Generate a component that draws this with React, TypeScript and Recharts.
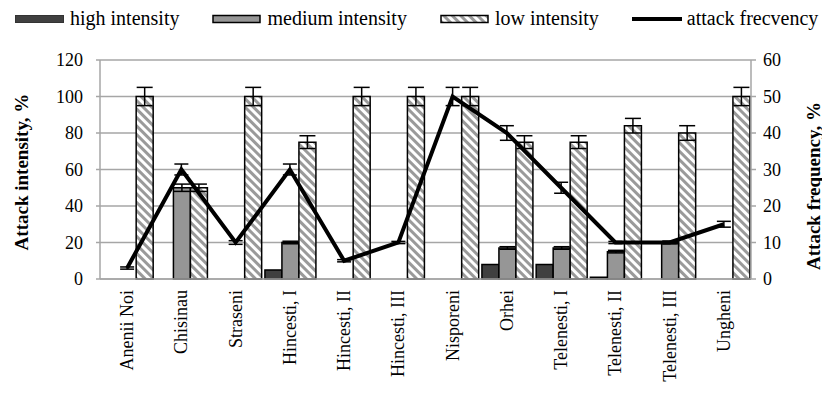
import React from 'react';
import {
  ComposedChart,
  Bar,
  Line,
  XAxis,
  YAxis,
  CartesianGrid,
  ErrorBar,
} from 'recharts';

const categories = [
  'Anenii Noi',
  'Chisinau',
  'Straseni',
  'Hincesti, I',
  'Hincesti, II',
  'Hincesti, III',
  'Nisporeni',
  'Orhei',
  'Telenesti, I',
  'Telenesti, II',
  'Telenesti, III',
  'Ungheni',
];
const highIntensity = [0, 0, 0, 5, 0, 0, 0, 8, 8, 1, 0, 0];
const mediumIntensity = [0, 50, 0, 20, 0, 0, 0, 17, 17, 15, 20, 0];
const mediumError = [0, 2, 0, 0.7, 0, 0, 0, 0.7, 0.7, 0.7, 0.7, 0];
const lowIntensity = [100, 50, 100, 75, 100, 100, 100, 75, 75, 84, 80, 100];
const lowError = [5, 2, 5, 3.5, 5, 5, 5, 3.5, 3.5, 4, 4, 5];
const attackFrequency = [3, 30, 10, 30, 5, 10, 50, 40, 25, 10, 10, 15];
const frequencyError = [0.3, 1.5, 0.5, 1.5, 0.3, 0.3, 2.5, 2, 1.5, 0.3, 0.3, 0.8];
const leftTicks = [0, 20, 40, 60, 80, 100, 120];
const rightTicks = [0, 10, 20, 30, 40, 50, 60];

const seriesNames = {
  high: 'high intensity',
  medium: 'medium intensity',
  low: 'low intensity',
  freq: 'attack frecvency',
};

const FONT = '"Liberation Serif", "Times New Roman", serif';
const GRID = '#a6a6a6';

const data = categories.map((c, i) => ({
  category: c,
  high: highIntensity[i],
  medium: mediumIntensity[i],
  mediumErr: mediumError[i],
  low: lowIntensity[i],
  lowErr: lowError[i],
  freq: attackFrequency[i],
  freqErr: frequencyError[i],
}));

const XTick = (props: any) => {
  const { x, y, payload } = props;
  return (
    <text
      x={x}
      y={y}
      transform={`rotate(-90 ${x} ${y})`}
      textAnchor="end"
      dominantBaseline="central"
      fontFamily={FONT}
      fontSize={18}
      fill="#000"
    >
      {payload.value}
    </text>
  );
};

const axisTitle = (text: string, side: 'left' | 'right') => (props: any) => {
  const vb = props.viewBox || {};
  const x = side === 'left' ? vb.x + 21 : vb.x + vb.width - 9;
  const y = side === 'left' ? 172 : 186;
  return (
    <text
      x={x}
      y={y}
      transform={`rotate(-90 ${x} ${y})`}
      textAnchor="middle"
      dominantBaseline="central"
      fontFamily={FONT}
      fontSize={19}
      fontWeight="bold"
      fill="#000"
    >
      {text}
    </text>
  );
};

const legendItems = [
  { key: 'high', label: seriesNames.high, kind: 'high' },
  { key: 'medium', label: seriesNames.medium, kind: 'medium' },
  { key: 'low', label: seriesNames.low, kind: 'low' },
  { key: 'freq', label: seriesNames.freq, kind: 'line' },
];

const LegendIcon = ({ kind }: { kind: string }) => (
  <svg width={50} height={10} style={{ display: 'block', marginTop: 10 }}>
    <defs>
      <pattern
        id="legStripes"
        patternUnits="userSpaceOnUse"
        width="6"
        height="6"
        patternTransform="rotate(-45)"
      >
        <rect width="6" height="6" fill="#fff" />
        <rect width="3" height="6" fill="#9a9a9a" />
      </pattern>
    </defs>
    {kind === 'high' && <rect x={0.5} y={1.5} width={48} height={7} fill="#404040" stroke="#333" strokeWidth={1} />}
    {kind === 'medium' && <rect x={1} y={1.5} width={47} height={7} fill="#969696" stroke="#000" strokeWidth={1.5} />}
    {kind === 'low' && <rect x={1} y={1.5} width={47} height={7} fill="url(#legStripes)" stroke="#000" strokeWidth={1.5} />}
    {kind === 'line' && <line x1={0} y1={5} x2={50} y2={5} stroke="#000" strokeWidth={4} />}
  </svg>
);

export default function App() {
  return (
    <div
      style={{
        position: 'absolute',
        left: 0,
        top: 0,
        width: 822,
        height: 394,
        background: '#fff',
        overflow: 'hidden',
      }}
    >
      <div
        style={{
          position: 'absolute',
          left: 15,
          top: 4,
          display: 'flex',
          alignItems: 'flex-start',
          gap: 33,
          fontFamily: FONT,
          fontSize: 20,
          lineHeight: '28px',
          color: '#000',
          whiteSpace: 'nowrap',
        }}
      >
        {legendItems.map((it) => (
          <div key={it.key} style={{ display: 'flex', alignItems: 'flex-start', gap: 5 }}>
            <LegendIcon kind={it.kind} />
            <span>{it.label}</span>
          </div>
        ))}
      </div>
      <ComposedChart
        width={822}
        height={394}
        data={data}
        margin={{ top: 60, right: 0, bottom: 0, left: 0 }}
        barCategoryGap="4%"
        barGap={0}
      >
        <defs>
          <pattern
            id="lowStripes"
            patternUnits="userSpaceOnUse"
            width="6"
            height="6"
            patternTransform="rotate(-45)"
          >
            <rect width="6" height="6" fill="#fff" />
            <rect width="3" height="6" fill="#9a9a9a" />
          </pattern>
        </defs>
        <CartesianGrid yAxisId="left" vertical={false} stroke={GRID} strokeWidth={1.5} />
        <XAxis
          dataKey="category"
          height={115}
          interval={0}
          tick={<XTick />}
          tickLine={false}
          tickSize={0}
          tickMargin={11}
          axisLine={{ stroke: GRID, strokeWidth: 1.5 }}
        />
        <YAxis
          yAxisId="left"
          width={100}
          domain={[0, 120]}
          ticks={leftTicks}
          interval={0}
          tickSize={4}
          tickMargin={13}
          tickLine={{ stroke: GRID, strokeWidth: 1.5 }}
          axisLine={{ stroke: GRID, strokeWidth: 1.5 }}
          tick={{ fill: '#000', fontSize: 18, fontFamily: FONT }}
          label={{ content: axisTitle('Attack intensity, %', 'left') }}
        />
        <YAxis
          yAxisId="right"
          orientation="right"
          width={71}
          domain={[0, 60]}
          ticks={rightTicks}
          interval={0}
          tickSize={5}
          tickMargin={7}
          tickLine={{ stroke: GRID, strokeWidth: 1.5 }}
          axisLine={{ stroke: GRID, strokeWidth: 1.5 }}
          tick={{ fill: '#000', fontSize: 18, fontFamily: FONT }}
          label={{ content: axisTitle('Attack frequency, %', 'right') }}
        />
        <Bar
          yAxisId="left"
          dataKey="high"
          name={seriesNames.high}
          fill="#404040"
          stroke="#000"
          strokeWidth={1.5}
          isAnimationActive={false}
        />
        <Bar
          yAxisId="left"
          dataKey="medium"
          name={seriesNames.medium}
          fill="#969696"
          stroke="#000"
          strokeWidth={1.5}
          isAnimationActive={false}
        >
          <ErrorBar dataKey="mediumErr" width={8} stroke="#000" strokeWidth={1.5} direction="y" />
        </Bar>
        <Bar
          yAxisId="left"
          dataKey="low"
          name={seriesNames.low}
          fill="url(#lowStripes)"
          stroke="#000"
          strokeWidth={1.5}
          isAnimationActive={false}
        >
          <ErrorBar dataKey="lowErr" width={8} stroke="#000" strokeWidth={1.5} direction="y" />
        </Bar>
        <Line
          yAxisId="right"
          dataKey="freq"
          name={seriesNames.freq}
          type="linear"
          stroke="#000"
          strokeWidth={4}
          dot={false}
          activeDot={false}
          isAnimationActive={false}
        >
          <ErrorBar dataKey="freqErr" width={7} stroke="#000" strokeWidth={1.5} direction="y" />
        </Line>
      </ComposedChart>
    </div>
  );
}
